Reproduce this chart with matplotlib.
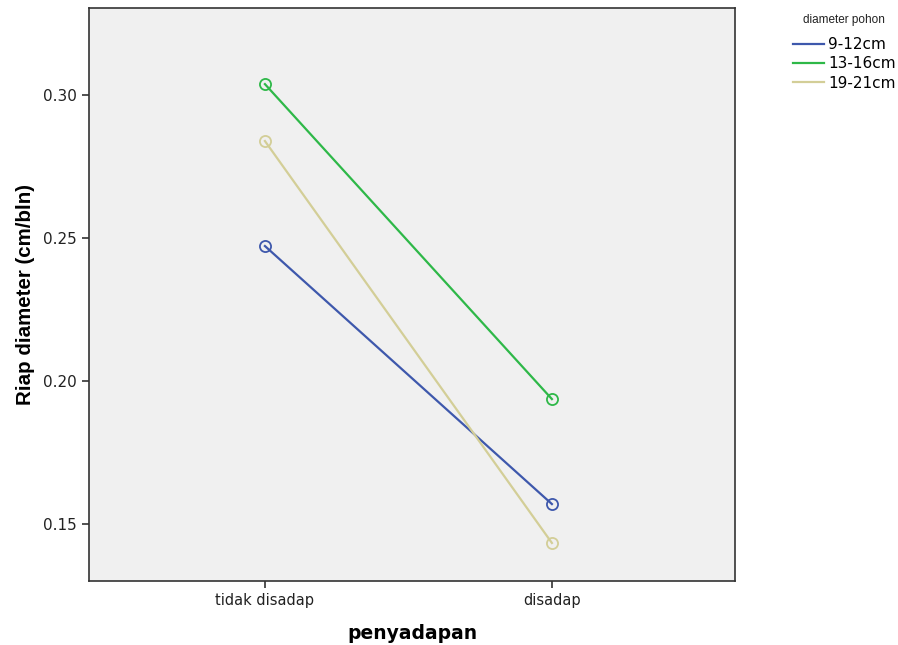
import matplotlib
matplotlib.use('Agg')
import matplotlib.pyplot as plt

categories = ['tidak disadap', 'disadap']
series_names = ['9-12cm', '13-16cm', '19-21cm']
vals_9_12 = [0.2472, 0.1570]
vals_13_16 = [0.3038, 0.1937]
vals_19_21 = [0.2839, 0.1434]
colors = ['#3E58AC', '#2EB848', '#D3CE97']

plt.rcParams['font.family'] = ['DejaVu Sans']

fig = plt.figure(figsize=(8.98, 6.45), dpi=100)
ax = fig.add_axes([0.0991, 0.0992, 0.7194, 0.8884])
ax.set_facecolor('#F0F0F0')

x = list(range(len(categories)))
for vals, name, c in zip([vals_9_12, vals_13_16, vals_19_21], series_names, colors):
    ax.plot(x, vals, color=c, lw=1.6, label=name)
    ax.plot(x, vals, ls='none', marker='o', ms=8, mfc='none', mec=c, mew=1.3)

ax.set_xlim(-0.613, 1.638)
ax.set_ylim(0.1301, 0.3304)
ax.set_xticks(x)
ax.set_xticklabels(categories, fontsize=10.5, color='#222222')
ax.set_yticks([0.15, 0.20, 0.25, 0.30])
ax.set_yticklabels(['0.15', '0.20', '0.25', '0.30'], fontsize=11, color='#222222')
ax.tick_params(direction='out', length=5, width=1.2, color='#333333')
for s in ax.spines.values():
    s.set_color('#333333')
    s.set_linewidth(1.2)

ax.set_xlabel('penyadapan', fontsize=13.5, fontweight='bold', labelpad=12)
ax.set_ylabel('Riap diameter (cm/bln)', fontsize=14.8, fontweight='bold', labelpad=6,
              family='Liberation Sans')

fig.text(803 / 898, 1 - 20 / 645, 'diameter pohon', fontsize=8.5, color='#222222',
         ha='left', va='center', family='Liberation Sans')
leg = fig.legend(loc='upper left', bbox_to_anchor=(793 / 898, 1 - 37 / 645), frameon=False,
                 fontsize=11, handlelength=2.0, handletextpad=0.3, labelspacing=0.28,
                 borderaxespad=0, borderpad=0)

fig.savefig('out.png', dpi=100)
